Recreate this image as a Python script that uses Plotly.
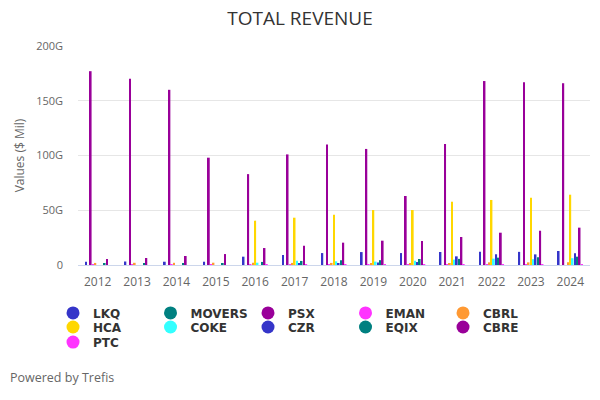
import plotly.graph_objects as go

years = ["2012", "2013", "2014", "2015", "2016", "2017", "2018", "2019", "2020", "2021", "2022", "2023", "2024"]

LKQ    = [3.0, 3.2, 3.0, 3.0, 7.6, 9.1, 10.9, 11.8, 10.9, 11.9, 12.2, 12.0, 12.8]
MOVERS = [None] * 13
PSX    = [177, 170, 160, 98, 83, 101, 110, 106, 63, 110.5, 168, 167, 166]
EMAN   = [0.03, 0.03, 0.03, 0.03, 0.03, 0.02, 0.02, 0.02, 0.03, 0.03, 0.03, 0.03, None]
CBRL   = [1.9, 2.0, 2.0, 2.1, 2.1, 1.9, 1.9, 1.6, 1.5, 1.6, 2.4, 2.4, 2.4]
HCA    = [None, None, None, None, 40.5, 43.2, 46.0, 50.2, 50.2, 57.8, 59.4, 61.5, 64.2]
COKE   = [None, None, None, None, 2.1, 3.9, 3.4, 3.1, 3.8, 4.9, 5.8, 5.3, 6.2]
CZR    = [None, None, None, None, None, 1.2, 1.0, 2.3, 2.7, 7.9, 9.8, 9.7, 10.7]
EQIX   = [1.2, 1.3, 1.5, 1.6, 2.8, 3.7, 4.3, 4.4, 5.5, 5.6, 6.7, 7.0, 7.6]
CBRE   = [5.5, 6.4, 8.2, 10.0, 15.5, 17.6, 20.4, 22.2, 21.9, 25.6, 29.5, 31.3, 34.1]
PTC    = [None, None, None, None, 0.5, 0.5, 0.5, 0.5, 0.7, 0.9, 0.9, 0.7, 0.9]

series = [
    ("LKQ", LKQ, "#3535c9"),
    ("MOVERS", MOVERS, "#008080"),
    ("PSX", PSX, "#990099"),
    ("EMAN", EMAN, "#ff33ff"),
    ("CBRL", CBRL, "#ff9933"),
    ("HCA", HCA, "#ffd700"),
    ("COKE", COKE, "#33ffff"),
    ("CZR", CZR, "#3535c9"),
    ("EQIX", EQIX, "#008080"),
    ("CBRE", CBRE, "#990099"),
    ("PTC", PTC, "#ff33ff"),
]

fig = go.Figure()
for name, vals, color in series:
    fig.add_trace(go.Bar(x=years, y=vals, name=name, marker_color=color,
                         marker_line_width=0, showlegend=False))

legend_ids = ["legend", "legend2", "legend3"]
for i, (name, vals, color) in enumerate(series):
    fig.add_trace(go.Scatter(x=[None], y=[None], mode="markers", name=name,
                             marker=dict(color=color, size=13, symbol="circle"),
                             showlegend=True, legend=legend_ids[i // 5]))

leg_common = dict(orientation="h", xanchor="left", yanchor="middle",
                  entrywidth=52.5, entrywidthmode="pixels",
                  font=dict(family="DejaVu Sans", size=12, color="#333333", weight="bold"),
                  bgcolor="rgba(0,0,0,0)")

fig.update_layout(
    width=600, height=400,
    paper_bgcolor="white", plot_bgcolor="white",
    margin=dict(l=78, r=10, t=46, b=135),
    barmode="group", bargap=0.35, bargroupgap=0.25,
    title=dict(text="TOTAL REVENUE", x=0.5, xanchor="center", y=0.953, yanchor="middle",
               font=dict(family="Open Sans", size=19, color="#333333")),
    font=dict(family="Open Sans", color="#666666", size=11),
    xaxis=dict(type="category", showgrid=False, showline=True, linecolor="#ccd6eb",
               linewidth=1, ticks="", ticklabelstandoff=6,
               tickfont=dict(size=12, color="#666666")),
    yaxis=dict(range=[0, 200], tickvals=[0, 50, 100, 150, 200],
               ticktext=["0", "50G", "100G", "150G", "200G"],
               showgrid=True, gridcolor="#e6e6e6", zeroline=False, showline=False,
               ticklabelstandoff=14,
               tickfont=dict(size=11, color="#666666"),
               title=dict(text="Values ($ Mil)", font=dict(size=12, color="#666666"), standoff=8)),
    legend=dict(x=-0.0488, y=-0.219, **leg_common),
    legend2=dict(x=-0.0488, y=-0.283, **leg_common),
    legend3=dict(x=-0.0488, y=-0.352, **leg_common),
    annotations=[dict(text="Powered by Trefis", xref="paper", yref="paper",
                      x=-0.137, y=-0.515, xanchor="left", yanchor="middle", showarrow=False,
                      font=dict(size=12.5, color="#666666"))],
)

fig.write_html("out.html")
